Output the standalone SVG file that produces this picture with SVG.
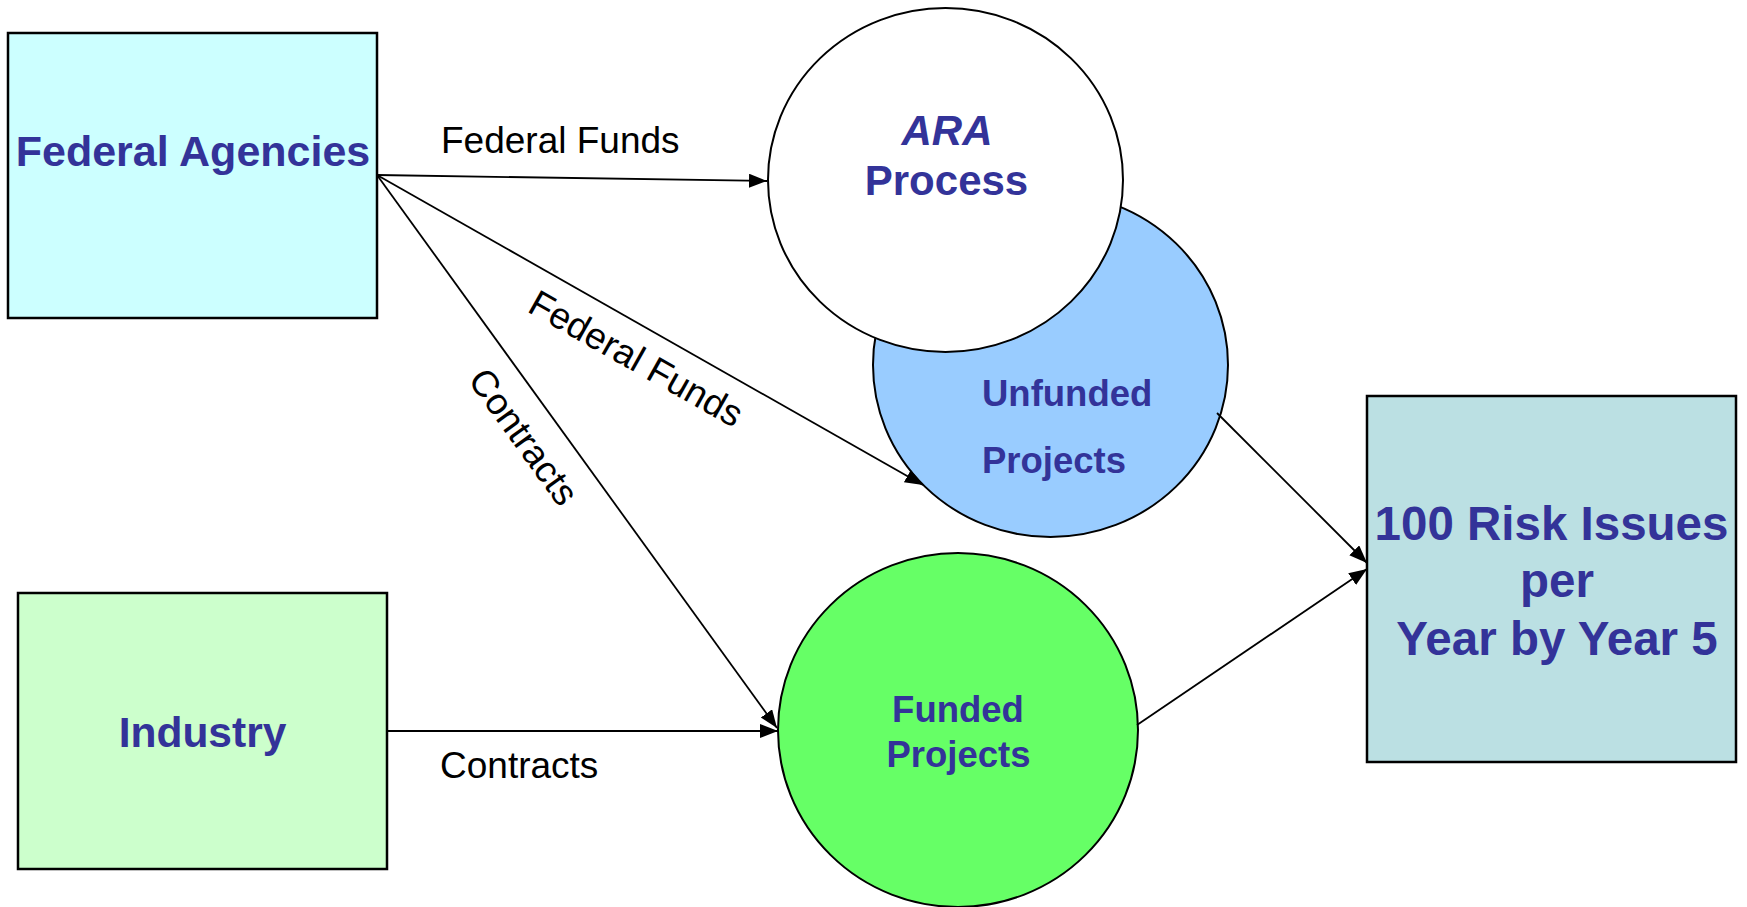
<svg xmlns="http://www.w3.org/2000/svg" width="1747" height="907" viewBox="0 0 1747 907">
<style>
.box{stroke:#000;stroke-width:2.5}
.circ{stroke:#000;stroke-width:2}
.t{font-family:"Liberation Sans",Arial,sans-serif;font-weight:bold;fill:#333399}
.lbl{font-family:"Liberation Sans",Arial,sans-serif;font-size:37px;fill:#000}
.c{stroke:#000;stroke-width:1.8;fill:none}
</style>
<defs>
<marker id="ah" markerUnits="userSpaceOnUse" markerWidth="20" markerHeight="16" refX="18" refY="7" orient="auto">
<path d="M0,0 L18,7 L0,14 Z" fill="#000"/>
</marker>
</defs>
<rect width="1747" height="907" fill="#fff"/>
<g id="federal-agencies">
<rect class="box" x="8" y="33" width="369" height="285" fill="#CCFFFF"/>
<text class="t" x="193" y="166" font-size="43" text-anchor="middle">Federal Agencies</text>
</g>
<g id="industry">
<rect class="box" x="18" y="593" width="369" height="276" fill="#CCFFCC"/>
<text class="t" x="202.5" y="747" font-size="42.5" text-anchor="middle">Industry</text>
</g>
<g id="unfunded-projects">
<ellipse class="circ" cx="1050.5" cy="365" rx="177.5" ry="172" fill="#99CCFF"/>
<text class="t" x="982" y="406" font-size="36.5">Unfunded</text>
<text class="t" x="982" y="473" font-size="36.5">Projects</text>
</g>
<g id="ara-process">
<ellipse class="circ" cx="945.5" cy="180" rx="177.5" ry="172" fill="#FFFFFF"/>
<text class="t" x="947" y="145" font-size="42" font-style="italic" text-anchor="middle">ARA</text>
<text class="t" x="946.5" y="195" font-size="42" text-anchor="middle">Process</text>
</g>
<g id="funded-projects">
<ellipse class="circ" cx="958" cy="730" rx="180" ry="177" fill="#66FF66"/>
<text class="t" x="958" y="722" font-size="36.5" text-anchor="middle">Funded</text>
<text class="t" x="958.5" y="767" font-size="36.5" text-anchor="middle">Projects</text>
</g>
<g id="risk-issues">
<rect class="box" x="1367" y="396" width="369" height="366" fill="#BBE0E3"/>
<text class="t" x="1551.5" y="540" font-size="47.5" text-anchor="middle">100 Risk Issues</text>
<text class="t" x="1557" y="597" font-size="47.5" text-anchor="middle">per</text>
<text class="t" x="1557" y="655" font-size="47.5" text-anchor="middle">Year by Year 5</text>
</g>
<g id="connectors">
<line class="c" x1="377" y1="175" x2="767" y2="181" marker-end="url(#ah)"/>
<line class="c" x1="377" y1="175" x2="923" y2="485" marker-end="url(#ah)"/>
<line class="c" x1="377" y1="175" x2="777" y2="728" marker-end="url(#ah)"/>
<line class="c" x1="387" y1="731" x2="778" y2="731" marker-end="url(#ah)"/>
<line class="c" x1="1217" y1="413" x2="1367" y2="563" marker-end="url(#ah)"/>
<line class="c" x1="1137" y1="725" x2="1367" y2="569" marker-end="url(#ah)"/>
<text class="lbl" x="441" y="153">Federal Funds</text>
<text class="lbl" transform="translate(526,311) rotate(29.4)">Federal Funds</text>
<text class="lbl" transform="translate(467,380) rotate(54.1)">Contracts</text>
<text class="lbl" x="440" y="778">Contracts</text>
</g>
</svg>
